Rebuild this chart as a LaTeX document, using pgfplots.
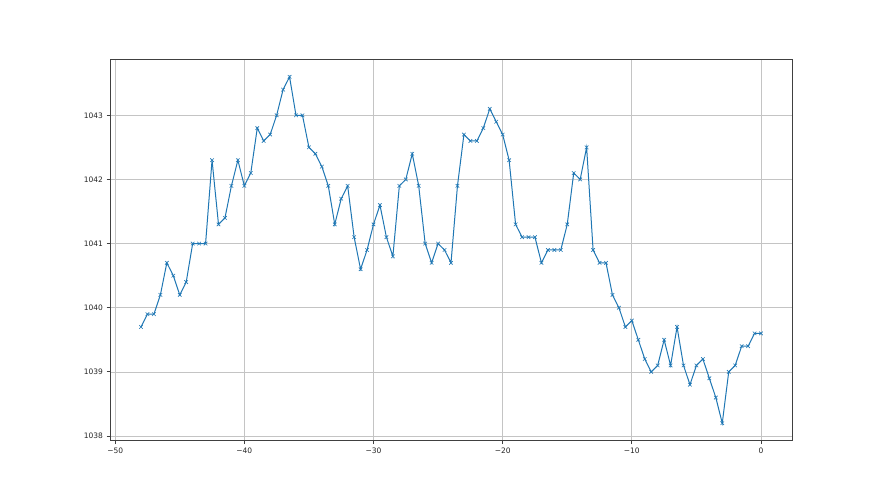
\documentclass[border=0pt]{standalone}
\usepackage{pgfplots}
\pgfplotsset{compat=1.18}
\usepackage{fontspec}
\setmainfont{DejaVu Sans}
\definecolor{mplblue}{HTML}{1F77B4}
\definecolor{mplgrid}{HTML}{C4C4C4}
\begin{document}
\fontsize{10pt}{12pt}\selectfont
\begin{tikzpicture}[x=1pt,y=1pt]
\path[use as bounding box] (0,0) rectangle (880,495);
\begin{axis}[
  at={(110pt,54.5pt)}, anchor=south west,
  scale only axis, width=682pt, height=381pt,
  xmin=-50.4, xmax=2.4, ymin=1037.93, ymax=1043.87,
  xtick={-50,-40,-30,-20,-10,0},
  xticklabels={−50,−40,−30,−20,−10,0},
  ytick={1038,1039,1040,1041,1042,1043},
  yticklabels={1038,1039,1040,1041,1042,1043},
  grid=major,
  major grid style={mplgrid, line width=0.7pt},
  axis line style={black!75, line width=0.8pt},
  tick style={black!75, line width=0.8pt},
  tick align=outside, major tick length=3.5pt,
  xtick pos=bottom, ytick pos=left,
  ticklabel style={font=\fontsize{7.5pt}{9pt}\selectfont, text=black!85},
  axis background/.style={fill=white},
]
\addplot[mplblue, line width=1pt, mark=x, mark size=2.5pt, mark options={line width=0.6pt}] coordinates {
(-48,1039.7) (-47.5,1039.9) (-47,1039.9) (-46.5,1040.2) (-46,1040.7) (-45.5,1040.5)
(-45,1040.2) (-44.5,1040.4) (-44,1041.0) (-43.5,1041.0) (-43,1041.0) (-42.5,1042.3)
(-42,1041.3) (-41.5,1041.4) (-41,1041.9) (-40.5,1042.3) (-40,1041.9) (-39.5,1042.1)
(-39,1042.8) (-38.5,1042.6) (-38,1042.7) (-37.5,1043.0) (-37,1043.4) (-36.5,1043.6)
(-36,1043.0) (-35.5,1043.0) (-35,1042.5) (-34.5,1042.4) (-34,1042.2) (-33.5,1041.9)
(-33,1041.3) (-32.5,1041.7) (-32,1041.9) (-31.5,1041.1) (-31,1040.6) (-30.5,1040.9)
(-30,1041.3) (-29.5,1041.6) (-29,1041.1) (-28.5,1040.8) (-28,1041.9) (-27.5,1042.0)
(-27,1042.4) (-26.5,1041.9) (-26,1041.0) (-25.5,1040.7) (-25,1041.0) (-24.5,1040.9)
(-24,1040.7) (-23.5,1041.9) (-23,1042.7) (-22.5,1042.6) (-22,1042.6) (-21.5,1042.8)
(-21,1043.1) (-20.5,1042.9) (-20,1042.7) (-19.5,1042.3) (-19,1041.3) (-18.5,1041.1)
(-18,1041.1) (-17.5,1041.1) (-17,1040.7) (-16.5,1040.9) (-16,1040.9) (-15.5,1040.9)
(-15,1041.3) (-14.5,1042.1) (-14,1042.0) (-13.5,1042.5) (-13,1040.9) (-12.5,1040.7)
(-12,1040.7) (-11.5,1040.2) (-11,1040.0) (-10.5,1039.7) (-10,1039.8) (-9.5,1039.5)
(-9,1039.2) (-8.5,1039.0) (-8,1039.1) (-7.5,1039.5) (-7,1039.1) (-6.5,1039.7)
(-6,1039.1) (-5.5,1038.8) (-5,1039.1) (-4.5,1039.2) (-4,1038.9) (-3.5,1038.6)
(-3,1038.2) (-2.5,1039.0) (-2,1039.1) (-1.5,1039.4) (-1,1039.4) (-0.5,1039.6)
(0,1039.6)
};
\end{axis}
\end{tikzpicture}
\end{document}
